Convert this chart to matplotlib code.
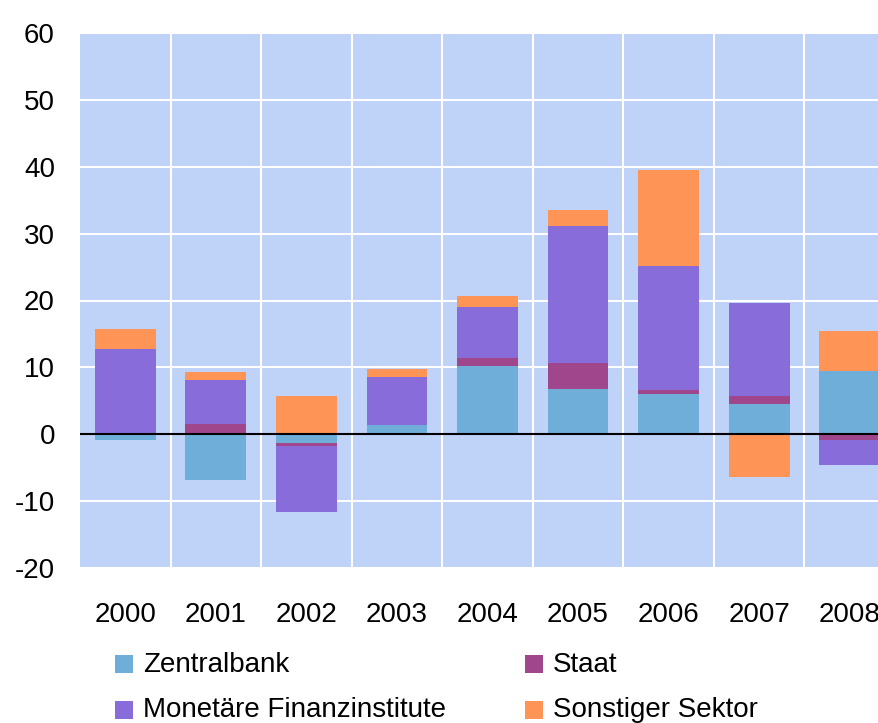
import matplotlib
matplotlib.use("Agg")
import matplotlib.pyplot as plt
import numpy as np
from matplotlib.patches import Rectangle

years = ["2000", "2001", "2002", "2003", "2004", "2005", "2006", "2007", "2008"]
zentralbank = [-0.8, -6.9, -1.3, 1.35, 10.2, 6.7, 6.0, 4.5, 9.4]
staat = [0.0, 1.5, -0.5, 0.0, 1.2, 3.9, 0.6, 1.2, -0.9]
mfi = [12.7, 6.6, -9.9, 7.15, 7.6, 20.6, 18.5, 13.9, -3.7]
sonstiger = [3.0, 1.2, 5.7, 1.2, 1.6, 2.4, 14.4, -6.4, 6.0]
series_names = ["Zentralbank", "Staat", "Monetäre Finanzinstitute", "Sonstiger Sektor"]
yticks = [-20, -10, 0, 10, 20, 30, 40, 50, 60]

colors = ["#6FAED9", "#A0468C", "#886CD9", "#FF9457"]

plt.rcParams['font.family'] = ['Liberation Sans', 'DejaVu Sans']
FS = 20

W, H = 879, 723
fig = plt.figure(figsize=(W / 100, H / 100), dpi=100)
left_px, right_px, top_px, bot_px = 80, 895, 33, 568
ax = fig.add_axes([left_px / W, 1 - bot_px / H, (right_px - left_px) / W, (bot_px - top_px) / H])
ax.set_facecolor("#BFD2F8")

x = np.arange(len(years))
data = [zentralbank, staat, mfi, sonstiger]
pos_base = np.zeros(len(years))
neg_base = np.zeros(len(years))
for vals, c in zip(data, colors):
    v = np.array(vals, dtype=float)
    bottoms = np.where(v >= 0, pos_base, neg_base)
    ax.bar(x, v, bottom=bottoms, width=0.67, color=c, zorder=3)
    pos_base = pos_base + np.where(v >= 0, v, 0)
    neg_base = neg_base + np.where(v < 0, v, 0)

ax.axhline(0, color="black", lw=1.5, zorder=4)
ax.set_xlim(-0.5, len(years) - 0.5)
ax.set_ylim(-20, 60)
ax.set_yticks(yticks)
ax.set_yticklabels([str(t) for t in yticks], fontsize=FS)
ax.set_xticks(x)
ax.set_xticklabels(years, fontsize=FS)
ax.grid(False)
for t in yticks:
    ax.axhline(t, color="white", lw=1.5, zorder=1)
for xm in np.arange(0.5, len(years) - 0.5, 1):
    ax.axvline(xm, color="white", lw=1.5, zorder=1)
ax.tick_params(axis='both', which='both', length=0)
ax.tick_params(axis='y', pad=18)
ax.tick_params(axis='x', pad=24.5)
for s in ax.spines.values():
    s.set_visible(False)

# legend (manual placement, 2 columns): (series index, square x, text x, square top, baseline)
entries = [
    (0, 115, 143, 655, 672),
    (2, 115, 143, 701, 717),
    (1, 525, 553, 655, 672),
    (3, 525, 553, 701, 717),
]
for idx, sx, tx, st, by in entries:
    fig.add_artist(Rectangle((sx / W, 1 - (st + 18) / H), 18 / W, 18 / H,
                             transform=fig.transFigure, facecolor=colors[idx],
                             edgecolor="none"))
    fig.text(tx / W, 1 - by / H, series_names[idx], fontsize=FS,
             ha="left", va="baseline")

fig.savefig("out.png", dpi=100)
